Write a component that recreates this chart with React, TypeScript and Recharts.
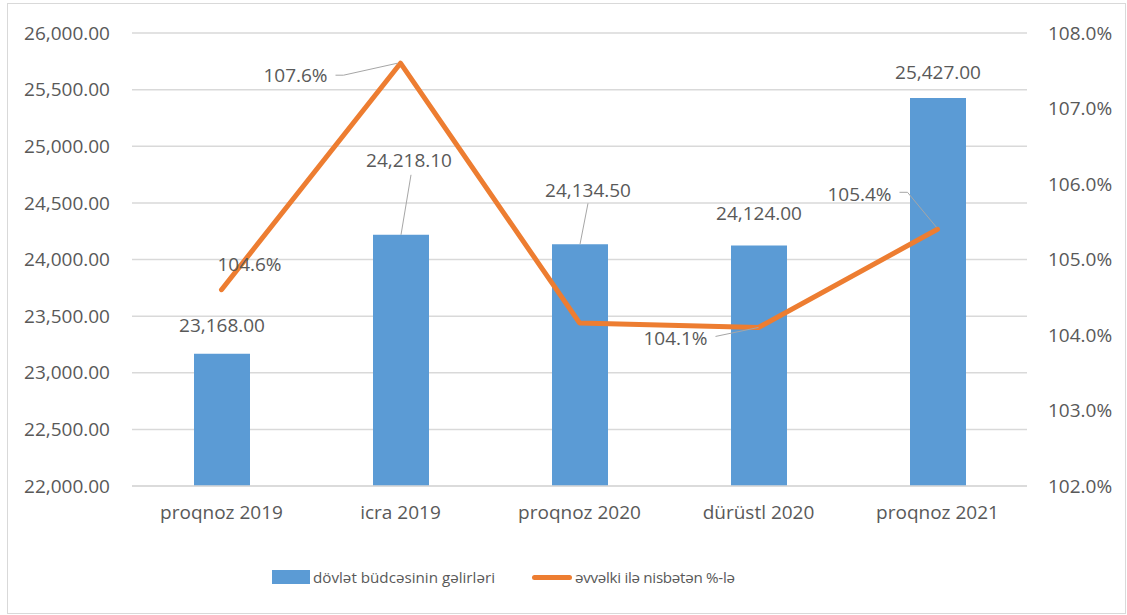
import React from "react";
import {
  ComposedChart,
  Bar,
  Line,
  XAxis,
  YAxis,
  CartesianGrid,
  LabelList,
} from "recharts";

const categories = ["proqnoz 2019", "icra 2019", "proqnoz 2020", "dürüstl 2020", "proqnoz 2021"];
const revenues = [23168.0, 24218.1, 24134.5, 24124.0, 25427.0];
const ratios = [104.6, 107.6, 104.16, 104.1, 105.4];
const ratioLabelShown = [true, true, false, true, true];
const leftTicks = [22000, 22500, 23000, 23500, 24000, 24500, 25000, 25500, 26000];
const rightTicks = [102, 103, 104, 105, 106, 107, 108];
const barName = "dövlət büdcəsinin gəlirləri";
const lineName = "əvvəlki ilə nisbətən %-lə";

const data = categories.map((c, i) => ({
  name: c,
  revenue: revenues[i],
  ratio: ratios[i],
  showRatio: ratioLabelShown[i],
}));

const FONT = "'Open Sans', sans-serif";
const TEXT = "#595959";
const GRID = "#D9D9D9";
const BLUE = "#5B9BD5";
const ORANGE = "#ED7D31";
const LEADER = "#A6A6A6";

// label placement (style only)
const barLabelLayout = [
  { dx: 0, dy: -29, leader: null as null | number[][] },
  { dx: 8, dy: -75, leader: [[10, -60], [0, 0]] },
  { dx: 8, dy: -54, leader: [[8, -41], [0, 0]] },
  { dx: 0, dy: -32, leader: null },
  { dx: 0, dy: -26, leader: null },
];
const lineLabelLayout = [
  { dx: 28, dy: -26, leader: null as null | number[][] },
  { dx: -105, dy: 12, leader: [[-65, 12], [-57, 12], [-3, 0]] },
  { dx: 0, dy: 0, leader: null },
  { dx: -83, dy: 11, leader: [[-43, 9], [0, 0]] },
  { dx: -78, dy: -35, leader: [[-38, -37], [-30, -37], [-1, -2]] },
];

const fmtNum = (v: number) =>
  v.toLocaleString("en-US", { minimumFractionDigits: 2, maximumFractionDigits: 2 });
const fmtPct = (v: number) => `${v.toFixed(1)}%`;

const BarLabel = (props: any) => {
  const vb = props.viewBox || {};
  const x = props.x ?? vb.x;
  const y = props.y ?? vb.y;
  const w = props.width ?? vb.width ?? 0;
  const idx = props.index;
  const lay = barLabelLayout[idx];
  const cx = x + w / 2;
  const top = y;
  return (
    <g>
      {lay.leader && (
        <polyline
          points={lay.leader.map((p) => `${cx + p[0]},${top + p[1]}`).join(" ")}
          fill="none"
          stroke={LEADER}
          strokeWidth={1}
        />
      )}
      <text
        x={cx + lay.dx}
        y={top + lay.dy}
        textAnchor="middle"
        dominantBaseline="central"
        fontFamily={FONT}
        fontSize={19}
        fill={TEXT}
      >
        {fmtNum(props.value)}
      </text>
    </g>
  );
};

const LineLabel = (props: any) => {
  const vb = props.viewBox || {};
  const x = props.x ?? vb.x;
  const y = props.y ?? vb.y;
  const idx = props.index;
  if (!ratioLabelShown[idx]) return null;
  const lay = lineLabelLayout[idx];
  return (
    <g>
      {lay.leader && (
        <polyline
          points={lay.leader.map((p) => `${x + p[0]},${y + p[1]}`).join(" ")}
          fill="none"
          stroke={LEADER}
          strokeWidth={1}
        />
      )}
      <text
        x={x + lay.dx}
        y={y + lay.dy}
        textAnchor="middle"
        dominantBaseline="central"
        fontFamily={FONT}
        fontSize={19}
        fill={TEXT}
      >
        {fmtPct(props.value)}
      </text>
    </g>
  );
};

export default function App() {
  return (
    <div
      style={{
        position: "absolute",
        left: 0,
        top: 0,
        width: 1127,
        height: 615,
        background: "#fff",
        fontFamily: FONT,
      }}
    >
      <div
        style={{
          position: "absolute",
          left: 7,
          top: 3,
          width: 1117,
          height: 609,
          border: `1px solid ${GRID}`,
        }}
      />
      <div style={{ position: "absolute", left: 0, top: 0 }}>
        <ComposedChart
          width={1127}
          height={615}
          data={data}
          margin={{ top: 33, right: 0, left: 0, bottom: 89 }}
          barCategoryGap={0}
        >
          <CartesianGrid yAxisId="left" vertical={false} stroke={GRID} strokeWidth={1.5} />
          <XAxis
            dataKey="name"
            axisLine={{ stroke: GRID, strokeWidth: 1.5 }}
            tickLine={false}
            height={40}
            tickMargin={14}
            tick={{ fontFamily: FONT, fontSize: 19, fill: TEXT }}
            interval={0}
          />
          <YAxis
            yAxisId="left"
            orientation="left"
            width={132}
            domain={[22000, 26000]}
            ticks={leftTicks}
            axisLine={false}
            tickLine={false}
            tickMargin={16}
            tickFormatter={fmtNum}
            tick={{ fontFamily: FONT, fontSize: 19, fill: TEXT }}
            interval={0}
          />
          <YAxis
            yAxisId="right"
            orientation="right"
            width={100}
            domain={[102, 108]}
            ticks={rightTicks}
            axisLine={false}
            tickLine={false}
            tickMargin={15}
            tickFormatter={fmtPct}
            tick={{ fontFamily: FONT, fontSize: 19, fill: TEXT }}
            interval={0}
          />
          <Bar
            yAxisId="left"
            dataKey="revenue"
            name={barName}
            fill={BLUE}
            barSize={56}
            isAnimationActive={false}
          >
            <LabelList dataKey="revenue" content={BarLabel} />
          </Bar>
          <Line
            yAxisId="right"
            type="linear"
            dataKey="ratio"
            name={lineName}
            stroke={ORANGE}
            strokeWidth={5}
            strokeLinecap="round"
            strokeLinejoin="round"
            dot={false}
            activeDot={false}
            isAnimationActive={false}
          >
            <LabelList dataKey="ratio" content={LineLabel} />
          </Line>
        </ComposedChart>
      </div>
      <div
        style={{
          position: "absolute",
          left: 272,
          top: 564,
          height: 26,
          display: "flex",
          alignItems: "center",
          fontFamily: FONT,
          fontSize: 15.2,
          color: TEXT,
          whiteSpace: "nowrap",
        }}
      >
        <span style={{ display: "inline-block", width: 38, height: 14, background: BLUE, marginRight: 3 }} />
        <span>{barName}</span>
        <span
          style={{
            display: "inline-block",
            width: 40,
            height: 5,
            borderRadius: 3,
            background: ORANGE,
            marginLeft: 37,
            marginRight: 3,
          }}
        />
        <span style={{ letterSpacing: -0.3 }}>{lineName}</span>
      </div>
    </div>
  );
}
